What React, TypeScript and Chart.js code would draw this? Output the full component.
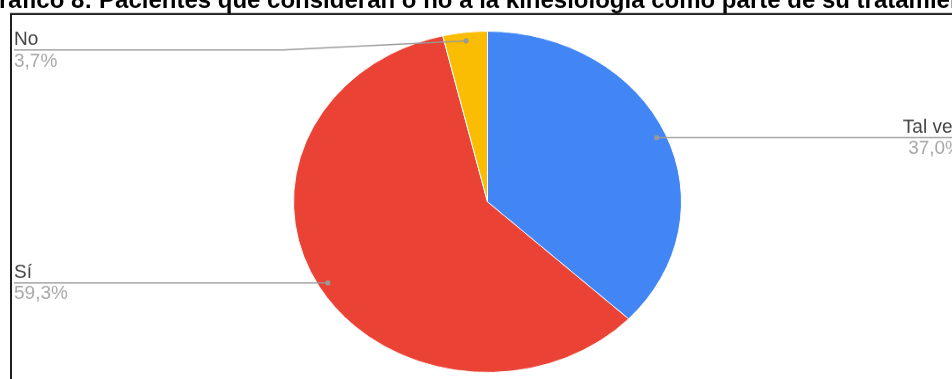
import React, { useEffect, useRef } from "react";
import { Chart, registerables } from "chart.js";

Chart.register(...registerables);

const TITLE =
  "Gráfico 8: Pacientes que consideran o no a la kinesiología como parte de su tratamiento";
const categories = ["Tal vez", "Sí", "No"];
const counts = [10, 16, 1];
const colors = ["#4285F4", "#EA4335", "#FBBC04"];

const W = 952;
const DH = 379; // displayed height
const H = 431; // internal canvas height (pie is shown squashed vertically)
const S = DH / H;

const FONT = 'Arial, "Liberation Sans", sans-serif';

function pctText(v: number, total: number) {
  return ((v / total) * 100).toFixed(1).replace(".", ",") + "%";
}

const labelsPlugin = {
  id: "gLabels",
  afterDraw(chart: any) {
    const ctx: CanvasRenderingContext2D = chart.ctx;
    const meta = chart.getDatasetMeta(0);
    const data: number[] = chart.data.datasets[0].data;
    const total = data.reduce((a, b) => a + b, 0);
    ctx.save();
    ctx.scale(1, 1 / S);

    // frame
    ctx.strokeStyle = "#1e1e1e";
    ctx.lineWidth = 2;
    ctx.beginPath();
    ctx.moveTo(11, DH + 5);
    ctx.lineTo(11, 14);
    ctx.lineTo(W + 5, 14);
    ctx.stroke();

    // title (cut at the top)
    ctx.fillStyle = "#000";
    ctx.font = "bold 24px " + FONT;
    ctx.textBaseline = "alphabetic";
    ctx.textAlign = "left";
    const g = ctx.measureText("G").width;
    ctx.fillText(TITLE, -g - 1, 7.5);

    ctx.font = "19px " + FONT;
    meta.data.forEach((arc: any, i: number) => {
      const p = arc.getProps(["x", "y", "startAngle", "endAngle", "outerRadius"], true);
      const mid = (p.startAngle + p.endAngle) / 2;
      const r = p.outerRadius * 0.95;
      const px = p.x + Math.cos(mid) * r;
      const py = (p.y + Math.sin(mid) * r) * S;

      ctx.strokeStyle = "#9a9a9a";
      ctx.lineWidth = 1.3;
      ctx.beginPath();
      let lineY = py;
      let tx = 14;
      let align: CanvasTextAlign = "left";
      if (i === 0) {
        ctx.moveTo(px, py);
        ctx.lineTo(W + 5, py);
        tx = 962;
        align = "right";
      } else if (i === 1) {
        ctx.moveTo(px, py);
        ctx.lineTo(14, py);
      } else {
        lineY = 50;
        ctx.moveTo(px, py);
        ctx.lineTo(283, lineY);
        ctx.lineTo(14, lineY);
      }
      ctx.stroke();

      ctx.fillStyle = "#9a9a9a";
      ctx.beginPath();
      ctx.arc(px, py, 2.6, 0, Math.PI * 2);
      ctx.fill();

      ctx.textAlign = align;
      ctx.fillStyle = "#444444";
      ctx.fillText(categories[i], tx, lineY - 5);
      ctx.fillStyle = "#a8a8a8";
      ctx.fillText(pctText(data[i], total), tx, lineY + 16.5);
    });

    ctx.restore();
  },
};

export default function App() {
  const ref = useRef<HTMLCanvasElement | null>(null);

  useEffect(() => {
    if (!ref.current) return;
    const chart = new Chart(ref.current, {
      type: "pie",
      data: {
        labels: categories,
        datasets: [
          {
            data: counts,
            backgroundColor: colors,
            borderColor: "#ffffff",
            borderWidth: 1,
          },
        ],
      },
      options: {
        responsive: false,
        animation: false,
        layout: { padding: { left: 293, right: 270, top: 35, bottom: 7 } },
        plugins: {
          legend: { display: false },
          tooltip: { enabled: false },
          title: { display: false },
        },
      },
      plugins: [labelsPlugin],
    });
    return () => chart.destroy();
  }, []);

  return (
    <div style={{ position: "absolute", left: 0, top: 0, width: W, height: DH, background: "#fff" }}>
      <canvas
        ref={ref}
        width={W}
        height={H}
        style={{ width: W + "px", height: DH + "px", display: "block" }}
      />
    </div>
  );
}
